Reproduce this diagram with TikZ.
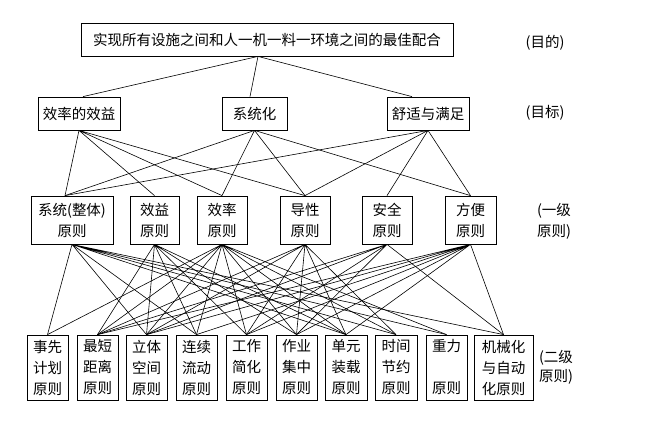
\documentclass[tikz,border=0pt]{standalone}
\usepackage{fontspec}
\setmainfont{Noto Sans CJK SC}

\begin{document}
\begin{tikzpicture}[x=1pt,y=-1pt]
				\tikzstyle{every node}+=[inner sep=0pt, font=\fontsize{14.5}{21}\selectfont]
				\tikzstyle{box}=[draw=black, line width=0.8pt, align=center]
				\tikzstyle{link}=[black, line width=0.6pt]
				\fill [white] (0,0) rectangle (651,425);
				\useasboundingbox (0,0) rectangle (651,425);
				% 目的
				\node [box, minimum width=372pt, minimum height=33pt] (goal) at (267,39.5) {实现所有设施之间和人一机一料一环境之间的最佳配合};
				\node (lv0) at (545,43) {(目的)};
				% 目标
				\node [box, minimum width=82pt, minimum height=33pt] (eff) at (79,113.5) {效率的效益};
				\node [box, minimum width=65pt, minimum height=33pt] (sys) at (254.5,113.5) {系统化};
				\node [box, minimum width=82pt, minimum height=33pt] (com) at (428,113.5) {舒适与满足};
				\node (lv1) at (545,113) {(目标)};
				% 一级原则
				\node [box, minimum width=82pt, minimum height=48pt] (p1) at (72,220) {系统(整体)\\原则};
				\node [box, minimum width=49pt, minimum height=48pt] (p2) at (154.5,220) {效益\\原则};
				\node [box, minimum width=50pt, minimum height=48pt] (p3) at (222,220) {效率\\原则};
				\node [box, minimum width=50pt, minimum height=48pt] (p4) at (305,220) {导性\\原则};
				\node [box, minimum width=50pt, minimum height=48pt] (p5) at (387,220) {安全\\原则};
				\node [box, minimum width=51pt, minimum height=48pt] (p6) at (470.5,220) {方便\\原则};
				\node [align=left] (lv2) at (554,221) {(一级\\原则)};
				% 二级原则
				\node [box, minimum width=41pt, minimum height=65pt] (q1) at (47.5,367.5) {事先\\计划\\原则};
				\node [box, minimum width=41pt, minimum height=65pt] (q2) at (97.5,367.5) {最短\\距离\\原则};
				\node [box, minimum width=41pt, minimum height=65pt] (q3) at (146.5,367.5) {立体\\空间\\原则};
				\node [box, minimum width=41pt, minimum height=65pt] (q4) at (196.5,367.5) {连续\\流动\\原则};
				\node [box, minimum width=41pt, minimum height=65pt] (q5) at (246.5,367.5) {工作\\简化\\原则};
				\node [box, minimum width=41pt, minimum height=65pt] (q6) at (296.5,367.5) {作业\\集中\\原则};
				\node [box, minimum width=42pt, minimum height=65pt] (q7) at (346,367.5) {单元\\装载\\原则};
				\node [box, minimum width=42pt, minimum height=65pt] (q8) at (396,367.5) {时间\\节约\\原则};
				\node [box, minimum width=41pt, minimum height=65pt] (q9) at (446.5,367.5) {重力\\~\\原则};
				\node [box, minimum width=59pt, minimum height=65pt] (q10) at (503.5,367.5) {机械化\\与自动\\化原则};
				\node [align=left, font=\fontsize{14.5}{19}\selectfont] (lv3) at (556,367) {(二级\\原则)};
				% 目的 -- 目标
				\draw [link] ([xshift=-9pt]goal.south) -- ([xshift=4pt]eff.north);
				\draw [link] ([xshift=-9pt]goal.south) -- ([xshift=-4.5pt]sys.north);
				\draw [link] ([xshift=-9pt]goal.south) -- ([xshift=-16pt]com.north);
				% 目标 -- 一级原则
				\draw [link] (eff.south) -- ([xshift=-7pt]p1.north) (eff.south) -- (p2.north) (eff.south) -- (p3.north) (eff.south) -- (p4.north);
				\draw [link] (sys.south) -- ([xshift=-7pt]p1.north) (sys.south) -- (p3.north) (sys.south) -- (p4.north) (sys.south) -- (p6.north);
				\draw [link] (com.south) -- ([xshift=-7pt]p1.north) (com.south) -- (p4.north) (com.south) -- (p5.north) (com.south) -- (p6.north);
				% 一级原则 -- 二级原则
				\draw [link] (p1.south) -- (q1.north) (p1.south) -- (q3.north) (p1.south) -- (q4.north) (p1.south) -- (q7.north) (p1.south) -- (q8.north) (p1.south) -- (q9.north) (p1.south) -- (q10.north);
				\draw [link] (p2.south) -- (q2.north) (p2.south) -- (q3.north) (p2.south) -- (q4.north) (p2.south) -- (q5.north) (p2.south) -- (q6.north) (p2.south) -- (q7.north);
				\draw [link] (p3.south) -- (q1.north) (p3.south) -- (q2.north) (p3.south) -- (q3.north) (p3.south) -- (q4.north) (p3.south) -- (q5.north) (p3.south) -- (q6.north) (p3.south) -- (q7.north) (p3.south) -- (q8.north) (p3.south) -- (q9.north);
				\draw [link] (p4.south) -- (q2.north) (p4.south) -- (q3.north) (p4.south) -- (q5.north) (p4.south) -- (q6.north) (p4.south) -- (q7.north) (p4.south) -- (q8.north);
				\draw [link] (p5.south) -- (q2.north) (p5.south) -- (q3.north) (p5.south) -- (q5.north) (p5.south) -- (q6.north) (p5.south) -- (q10.north);
				\draw [link] (p6.south) -- (q2.north) (p6.south) -- (q3.north) (p6.south) -- (q4.north) (p6.south) -- (q5.north) (p6.south) -- (q6.north) (p6.south) -- (q7.north) (p6.south) -- (q10.north);
			\end{tikzpicture}
\end{document}
